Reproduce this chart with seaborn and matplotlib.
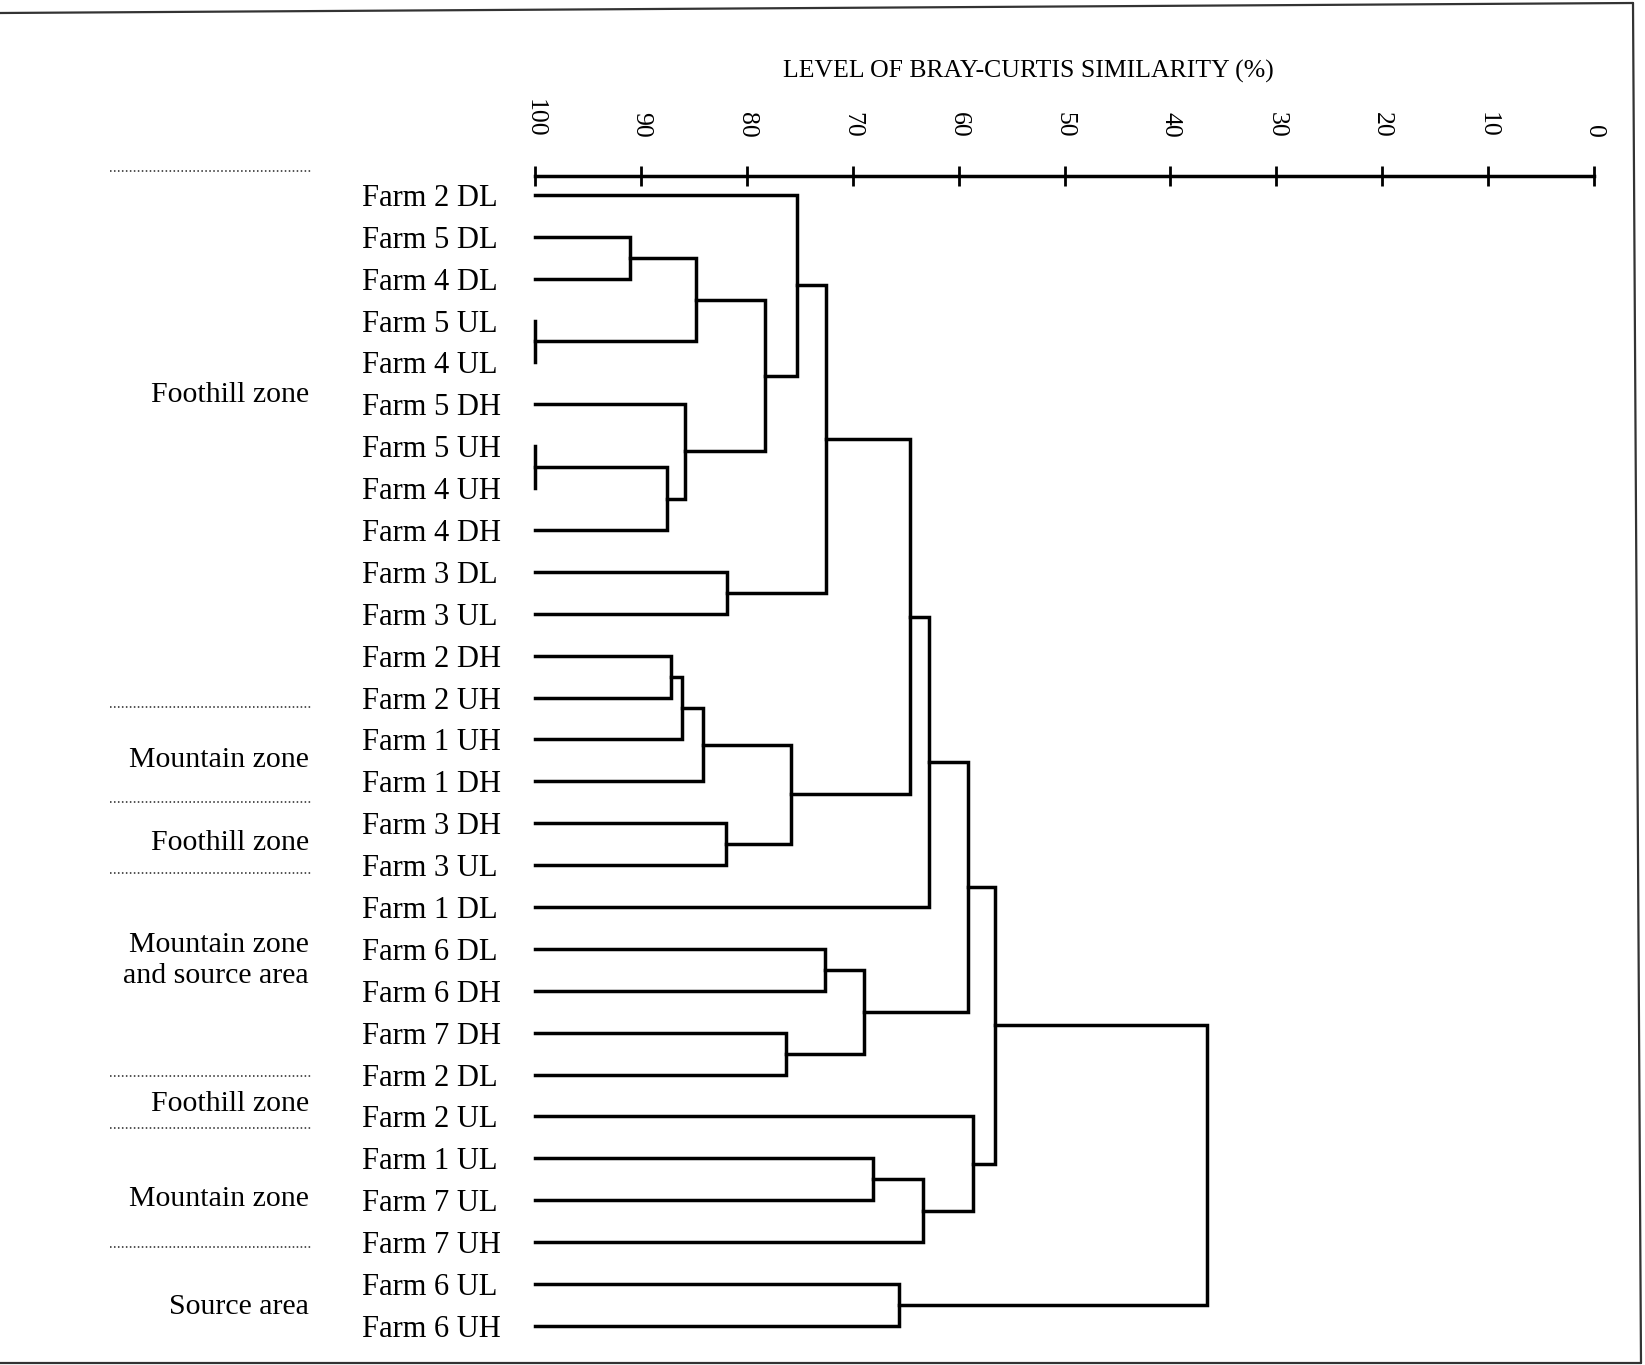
import numpy as np
import pandas as pd
import matplotlib
matplotlib.use("Agg")
import matplotlib.pyplot as plt
from matplotlib.lines import Line2D
from matplotlib.transforms import blended_transform_factory
import seaborn as sns

# Sampling units in dendrogram order (top to bottom)
leaf_labels = [
    "Farm 2 DL", "Farm 5 DL", "Farm 4 DL", "Farm 5 UL", "Farm 4 UL",
    "Farm 5 DH", "Farm 5 UH", "Farm 4 UH", "Farm 4 DH", "Farm 3 DL",
    "Farm 3 UL", "Farm 2 DH", "Farm 2 UH", "Farm 1 UH", "Farm 1 DH",
    "Farm 3 DH", "Farm 3 UL", "Farm 1 DL", "Farm 6 DL", "Farm 6 DH",
    "Farm 7 DH", "Farm 2 DL", "Farm 2 UL", "Farm 1 UL", "Farm 7 UL",
    "Farm 7 UH", "Farm 6 UL", "Farm 6 UH",
]

# Agglomeration steps: node ids < 28 are leaves, new cluster k gets id 28 + k
merge_left = [1, 3, 28, 6, 31, 5, 30, 0, 9, 35, 11, 38, 39, 15, 40,
              37, 43, 18, 20, 45, 44, 23, 49, 22, 48, 26, 52]
merge_right = [2, 4, 29, 7, 8, 32, 33, 34, 10, 36, 12, 13, 14, 16, 41,
               42, 17, 19, 21, 46, 47, 24, 25, 50, 51, 27, 53]
merge_similarity = [91.0, 100.0, 84.8, 100.0, 87.5, 85.8, 78.3, 75.3, 81.9,
                    72.5, 87.2, 86.1, 84.1, 82.0, 75.8, 64.6, 62.8, 72.6,
                    76.3, 68.9, 59.1, 68.1, 63.4, 58.6, 56.6, 65.6, 36.5]

# Similarity scale
tick_values = [100, 90, 80, 70, 60, 50, 40, 30, 20, 10, 0]
axis_title = "LEVEL OF BRAY-CURTIS SIMILARITY (%)"

# Zone annotations on the left
zone_names = ["Foothill zone", "Mountain zone", "Foothill zone",
              "Mountain zone\nand source area", "Foothill zone",
              "Mountain zone", "Source area"]

# Layout of the zone annotations (in leaf-row units)
zone_label_rows = [4.78, 13.5, 15.48, 18.28, 21.71, 23.97, 26.55]
separator_rows = [-0.58, 12.22, 14.5, 16.2, 21.04, 22.27, 25.12]

# Build the U-shaped links of the dendrogram
n_leaves = len(leaf_labels)
node_x = {i: 100.0 for i in range(n_leaves)}
node_y = {i: float(i) for i in range(n_leaves)}
rows = []
for k, (a, b, s) in enumerate(zip(merge_left, merge_right, merge_similarity)):
    xs = [node_x[a], s, s, node_x[b]]
    ys = [node_y[a], node_y[a], node_y[b], node_y[b]]
    for j, (x, y) in enumerate(zip(xs, ys)):
        rows.append({"link": k, "step": j, "similarity": x, "row": y})
    node_x[n_leaves + k] = s
    node_y[n_leaves + k] = (node_y[a] + node_y[b]) / 2.0
links = pd.DataFrame(rows)

sns.set_style("white")
plt.rcParams["font.family"] = ["Liberation Serif", "DejaVu Serif"]

W, H = 1645, 1365
fig = plt.figure(figsize=(W / 100, H / 100), dpi=100)
fig.patch.set_facecolor("white")

ax_left, ax_right = 535, 1594
ax_top, row_px, y_top, y_bottom = 176, 41.89, -0.45, 27.5
ax_height = (y_bottom - y_top) * row_px
ax = fig.add_axes([ax_left / W, 1 - (ax_top + ax_height) / H,
                   (ax_right - ax_left) / W, ax_height / H])

sns.lineplot(data=links, x="similarity", y="row", units="link",
             estimator=None, sort=False, color="black", linewidth=2.5,
             legend=False, ax=ax)
for ln in ax.lines:
    ln.set_solid_joinstyle("miter")
    ln.set_solid_capstyle("projecting")
    ln.set_clip_on(False)

ax.set_xlim(100, 0)
ax.set_ylim(y_bottom, y_top)
ax.set_xlabel("")
ax.set_ylabel("")

sns.despine(ax=ax, top=False, right=True, left=True, bottom=True)
ax.spines["top"].set_linewidth(2.5)
ax.spines["top"].set_color("black")

ax.xaxis.set_ticks_position("top")
ax.set_xticks(tick_values)
ax.set_xticklabels([str(v) for v in tick_values], rotation=270)
ax.tick_params(axis="x", direction="inout", length=15, width=2.0, pad=20,
               labelsize=18.5, top=True, bottom=False,
               labeltop=True, labelbottom=False, colors="black")

ax.set_yticks(range(n_leaves))
ax.set_yticklabels(leaf_labels)
ax.tick_params(axis="y", length=0, pad=124.6, labelsize=22,
               left=True, labelleft=True, colors="black")
for t in ax.get_yticklabels():
    t.set_ha("left")

fig.text(1028 / W, 1 - 71 / H, axis_title, ha="center", va="center",
         fontsize=18.5, color="black")

# Zone annotations with dotted separators
zone_tf = blended_transform_factory(fig.transFigure, ax.transData)
for name, r in zip(zone_names, zone_label_rows):
    ax.text(309 / W, r, name, transform=zone_tf, ha="right", va="center",
            fontsize=21.5, linespacing=1.22, multialignment="right",
            color="black", clip_on=False)
for r in separator_rows:
    ax.plot([110 / W, 311 / W], [r, r], transform=zone_tf, color="#222222",
            linewidth=1.1, linestyle=(0, (1, 1.6)), clip_on=False)

# Outer frame
frame = dict(transform=fig.transFigure, color="#333333", linewidth=1.6)
fig.add_artist(Line2D([0, 1633 / W], [1 - 13 / H, 1 - 3 / H], **frame))
fig.add_artist(Line2D([1633 / W, 1641 / W], [1 - 3 / H, 1 - 1363 / H], **frame))
fig.add_artist(Line2D([0, 1641 / W], [1 - 1363 / H, 1 - 1363 / H], **frame))

fig.savefig("out.png", dpi=100, facecolor="white")
